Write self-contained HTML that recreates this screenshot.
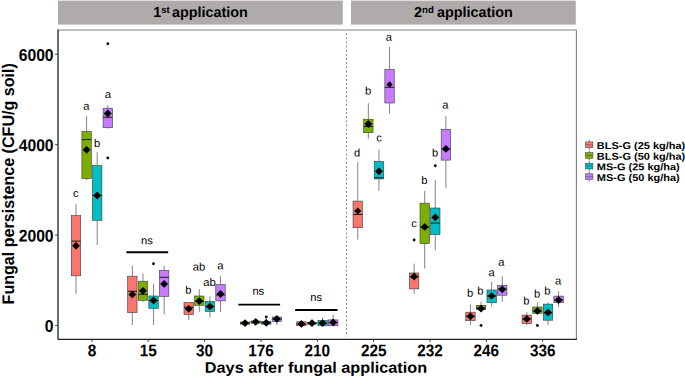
<!DOCTYPE html>
<html><head><meta charset="utf-8"><title>Fungal persistence</title>
<style>html,body{margin:0;padding:0;background:#fff;}body{width:685px;height:378px;overflow:hidden;}svg{display:block;}text{font-family:"Liberation Sans",sans-serif;fill:#000;}.b{font-weight:bold;}</style></head><body>
<svg width="685" height="378" viewBox="0 0 685 378">
<rect x="0" y="0" width="685" height="378" fill="#ffffff"/>
<rect x="58" y="0.6" width="284.8" height="24" fill="#AFABAA"/>
<rect x="351" y="0.6" width="224.8" height="24" fill="#AFABAA"/>
<text class="b" transform="translate(153.2,17) rotate(0.04)" font-size="14.4">1<tspan font-size="9.6" dy="-4.1">st</tspan><tspan dy="4.1" dx="2.2">application</tspan></text>
<text class="b" transform="translate(414,17) rotate(0.04)" font-size="14.4">2<tspan font-size="9.6" dy="-4.1">nd</tspan><tspan dy="4.1" dx="3.2">application</tspan></text>
<line x1="58.0" y1="30.0" x2="576.9" y2="30.0" stroke="#ababab" stroke-width="1.6"/>
<line x1="576.4" y1="30.0" x2="576.4" y2="339.3" stroke="#7c7c7c" stroke-width="1.1"/>
<line x1="346.5" y1="33.2" x2="346.5" y2="336.5" stroke="#5c5c5c" stroke-width="0.75" stroke-dasharray="1.9,2.25"/>
<line x1="76.00" y1="203.9" x2="76.00" y2="215.6" stroke="#5a5a5a" stroke-width="0.75"/>
<line x1="76.00" y1="275.8" x2="76.00" y2="293.8" stroke="#5a5a5a" stroke-width="0.75"/>
<rect x="71.30" y="215.6" width="9.4" height="60.2" fill="#F8766D" stroke="#3a3a3a" stroke-width="0.6"/>
<line x1="71.30" y1="241.1" x2="80.70" y2="241.1" stroke="#1c1c1c" stroke-width="1"/>
<line x1="86.60" y1="116.3" x2="86.60" y2="131.6" stroke="#5a5a5a" stroke-width="0.75"/>
<line x1="86.60" y1="178.5" x2="86.60" y2="180.0" stroke="#5a5a5a" stroke-width="0.75"/>
<rect x="81.90" y="131.6" width="9.4" height="46.9" fill="#7CAE00" stroke="#3a3a3a" stroke-width="0.6"/>
<line x1="81.90" y1="139.6" x2="91.30" y2="139.6" stroke="#1c1c1c" stroke-width="1"/>
<line x1="97.20" y1="152.3" x2="97.20" y2="165.6" stroke="#5a5a5a" stroke-width="0.75"/>
<line x1="97.20" y1="220.3" x2="97.20" y2="245.0" stroke="#5a5a5a" stroke-width="0.75"/>
<rect x="92.50" y="165.6" width="9.4" height="54.7" fill="#00BFC4" stroke="#3a3a3a" stroke-width="0.6"/>
<line x1="92.50" y1="195.5" x2="101.90" y2="195.5" stroke="#1c1c1c" stroke-width="1"/>
<line x1="107.80" y1="105.3" x2="107.80" y2="108.2" stroke="#5a5a5a" stroke-width="0.75"/>
<line x1="107.80" y1="127.7" x2="107.80" y2="128.7" stroke="#5a5a5a" stroke-width="0.75"/>
<rect x="103.10" y="108.2" width="9.4" height="19.5" fill="#C77CFF" stroke="#3a3a3a" stroke-width="0.6"/>
<line x1="103.10" y1="117.3" x2="112.50" y2="117.3" stroke="#1c1c1c" stroke-width="1"/>
<circle cx="107.80" cy="43.8" r="1.45" fill="#111"/>
<circle cx="107.80" cy="158.0" r="1.45" fill="#111"/>
<line x1="132.35" y1="265.7" x2="132.35" y2="276.2" stroke="#5a5a5a" stroke-width="0.75"/>
<line x1="132.35" y1="312.6" x2="132.35" y2="325.0" stroke="#5a5a5a" stroke-width="0.75"/>
<rect x="127.65" y="276.2" width="9.4" height="36.4" fill="#F8766D" stroke="#3a3a3a" stroke-width="0.6"/>
<line x1="127.65" y1="291.3" x2="137.05" y2="291.3" stroke="#1c1c1c" stroke-width="1"/>
<line x1="142.95" y1="273.3" x2="142.95" y2="281.2" stroke="#5a5a5a" stroke-width="0.75"/>
<line x1="142.95" y1="300.3" x2="142.95" y2="301.8" stroke="#5a5a5a" stroke-width="0.75"/>
<rect x="138.25" y="281.2" width="9.4" height="19.1" fill="#7CAE00" stroke="#3a3a3a" stroke-width="0.6"/>
<line x1="138.25" y1="294.3" x2="147.65" y2="294.3" stroke="#1c1c1c" stroke-width="1"/>
<line x1="153.55" y1="283.8" x2="153.55" y2="296.0" stroke="#5a5a5a" stroke-width="0.75"/>
<line x1="153.55" y1="308.4" x2="153.55" y2="325.0" stroke="#5a5a5a" stroke-width="0.75"/>
<rect x="148.85" y="296.0" width="9.4" height="12.4" fill="#00BFC4" stroke="#3a3a3a" stroke-width="0.6"/>
<line x1="148.85" y1="300.5" x2="158.25" y2="300.5" stroke="#1c1c1c" stroke-width="1"/>
<circle cx="153.55" cy="263.7" r="1.45" fill="#111"/>
<line x1="164.15" y1="265.7" x2="164.15" y2="270.3" stroke="#5a5a5a" stroke-width="0.75"/>
<line x1="164.15" y1="296.3" x2="164.15" y2="314.5" stroke="#5a5a5a" stroke-width="0.75"/>
<rect x="159.45" y="270.3" width="9.4" height="26.0" fill="#C77CFF" stroke="#3a3a3a" stroke-width="0.6"/>
<line x1="159.45" y1="277.3" x2="168.85" y2="277.3" stroke="#1c1c1c" stroke-width="1"/>
<line x1="188.70" y1="302.4" x2="188.70" y2="302.4" stroke="#5a5a5a" stroke-width="0.75"/>
<line x1="188.70" y1="314.5" x2="188.70" y2="319.9" stroke="#5a5a5a" stroke-width="0.75"/>
<rect x="184.00" y="302.4" width="9.4" height="12.1" fill="#F8766D" stroke="#3a3a3a" stroke-width="0.6"/>
<line x1="184.00" y1="307.2" x2="193.40" y2="307.2" stroke="#1c1c1c" stroke-width="1"/>
<line x1="199.30" y1="289.3" x2="199.30" y2="296.0" stroke="#5a5a5a" stroke-width="0.75"/>
<line x1="199.30" y1="305.3" x2="199.30" y2="311.9" stroke="#5a5a5a" stroke-width="0.75"/>
<rect x="194.60" y="296.0" width="9.4" height="9.3" fill="#7CAE00" stroke="#3a3a3a" stroke-width="0.6"/>
<line x1="194.60" y1="301.5" x2="204.00" y2="301.5" stroke="#1c1c1c" stroke-width="1"/>
<line x1="209.90" y1="296.6" x2="209.90" y2="301.3" stroke="#5a5a5a" stroke-width="0.75"/>
<line x1="209.90" y1="311.5" x2="209.90" y2="317.4" stroke="#5a5a5a" stroke-width="0.75"/>
<rect x="205.20" y="301.3" width="9.4" height="10.2" fill="#00BFC4" stroke="#3a3a3a" stroke-width="0.6"/>
<line x1="205.20" y1="306.5" x2="214.60" y2="306.5" stroke="#1c1c1c" stroke-width="1"/>
<line x1="220.50" y1="276.2" x2="220.50" y2="284.6" stroke="#5a5a5a" stroke-width="0.75"/>
<line x1="220.50" y1="300.9" x2="220.50" y2="311.9" stroke="#5a5a5a" stroke-width="0.75"/>
<rect x="215.80" y="284.6" width="9.4" height="16.3" fill="#C77CFF" stroke="#3a3a3a" stroke-width="0.6"/>
<line x1="215.80" y1="294.9" x2="225.20" y2="294.9" stroke="#1c1c1c" stroke-width="1"/>
<line x1="245.05" y1="321.5" x2="245.05" y2="322.0" stroke="#5a5a5a" stroke-width="0.75"/>
<line x1="245.05" y1="324.2" x2="245.05" y2="325.0" stroke="#5a5a5a" stroke-width="0.75"/>
<rect x="240.35" y="322.0" width="9.4" height="2.2" fill="#F8766D" stroke="#3a3a3a" stroke-width="0.6"/>
<line x1="240.35" y1="323.0" x2="249.75" y2="323.0" stroke="#1c1c1c" stroke-width="1"/>
<line x1="255.65" y1="320.5" x2="255.65" y2="321.0" stroke="#5a5a5a" stroke-width="0.75"/>
<line x1="255.65" y1="323.2" x2="255.65" y2="324.0" stroke="#5a5a5a" stroke-width="0.75"/>
<rect x="250.95" y="321.0" width="9.4" height="2.2" fill="#7CAE00" stroke="#3a3a3a" stroke-width="0.6"/>
<line x1="250.95" y1="322.0" x2="260.35" y2="322.0" stroke="#1c1c1c" stroke-width="1"/>
<line x1="266.25" y1="318.5" x2="266.25" y2="321.5" stroke="#5a5a5a" stroke-width="0.75"/>
<line x1="266.25" y1="324.2" x2="266.25" y2="325.0" stroke="#5a5a5a" stroke-width="0.75"/>
<rect x="261.55" y="321.5" width="9.4" height="2.7" fill="#00BFC4" stroke="#3a3a3a" stroke-width="0.6"/>
<line x1="261.55" y1="322.8" x2="270.95" y2="322.8" stroke="#1c1c1c" stroke-width="1"/>
<circle cx="266.25" cy="317.0" r="1.45" fill="#111"/>
<line x1="276.85" y1="316.0" x2="276.85" y2="317.0" stroke="#5a5a5a" stroke-width="0.75"/>
<line x1="276.85" y1="321.4" x2="276.85" y2="325.0" stroke="#5a5a5a" stroke-width="0.75"/>
<rect x="272.15" y="317.0" width="9.4" height="4.4" fill="#C77CFF" stroke="#3a3a3a" stroke-width="0.6"/>
<line x1="272.15" y1="319.0" x2="281.55" y2="319.0" stroke="#1c1c1c" stroke-width="1"/>
<line x1="301.40" y1="321.0" x2="301.40" y2="321.8" stroke="#5a5a5a" stroke-width="0.75"/>
<line x1="301.40" y1="325.8" x2="301.40" y2="326.0" stroke="#5a5a5a" stroke-width="0.75"/>
<rect x="296.70" y="321.8" width="9.4" height="4.0" fill="#F8766D" stroke="#3a3a3a" stroke-width="0.6"/>
<line x1="296.70" y1="324.0" x2="306.10" y2="324.0" stroke="#1c1c1c" stroke-width="1"/>
<line x1="312.00" y1="321.5" x2="312.00" y2="322.3" stroke="#5a5a5a" stroke-width="0.75"/>
<line x1="312.00" y1="324.2" x2="312.00" y2="325.0" stroke="#5a5a5a" stroke-width="0.75"/>
<rect x="307.30" y="322.3" width="9.4" height="1.9" fill="#7CAE00" stroke="#3a3a3a" stroke-width="0.6"/>
<line x1="307.30" y1="323.2" x2="316.70" y2="323.2" stroke="#1c1c1c" stroke-width="1"/>
<line x1="322.60" y1="317.4" x2="322.60" y2="320.5" stroke="#5a5a5a" stroke-width="0.75"/>
<line x1="322.60" y1="325.8" x2="322.60" y2="326.0" stroke="#5a5a5a" stroke-width="0.75"/>
<rect x="317.90" y="320.5" width="9.4" height="5.3" fill="#00BFC4" stroke="#3a3a3a" stroke-width="0.6"/>
<line x1="317.90" y1="323.2" x2="327.30" y2="323.2" stroke="#1c1c1c" stroke-width="1"/>
<line x1="333.20" y1="314.8" x2="333.20" y2="319.9" stroke="#5a5a5a" stroke-width="0.75"/>
<line x1="333.20" y1="325.8" x2="333.20" y2="326.0" stroke="#5a5a5a" stroke-width="0.75"/>
<rect x="328.50" y="319.9" width="9.4" height="5.9" fill="#C77CFF" stroke="#3a3a3a" stroke-width="0.6"/>
<line x1="328.50" y1="322.6" x2="337.90" y2="322.6" stroke="#1c1c1c" stroke-width="1"/>
<line x1="357.75" y1="162.2" x2="357.75" y2="201.1" stroke="#5a5a5a" stroke-width="0.75"/>
<line x1="357.75" y1="227.7" x2="357.75" y2="239.6" stroke="#5a5a5a" stroke-width="0.75"/>
<rect x="353.05" y="201.1" width="9.4" height="26.6" fill="#F8766D" stroke="#3a3a3a" stroke-width="0.6"/>
<line x1="353.05" y1="214.5" x2="362.45" y2="214.5" stroke="#1c1c1c" stroke-width="1"/>
<line x1="368.35" y1="103.2" x2="368.35" y2="119.2" stroke="#5a5a5a" stroke-width="0.75"/>
<line x1="368.35" y1="132.7" x2="368.35" y2="138.9" stroke="#5a5a5a" stroke-width="0.75"/>
<rect x="363.65" y="119.2" width="9.4" height="13.5" fill="#7CAE00" stroke="#3a3a3a" stroke-width="0.6"/>
<line x1="363.65" y1="126.5" x2="373.05" y2="126.5" stroke="#1c1c1c" stroke-width="1"/>
<line x1="378.95" y1="149.4" x2="378.95" y2="161.4" stroke="#5a5a5a" stroke-width="0.75"/>
<line x1="378.95" y1="178.9" x2="378.95" y2="190.7" stroke="#5a5a5a" stroke-width="0.75"/>
<rect x="374.25" y="161.4" width="9.4" height="17.5" fill="#00BFC4" stroke="#3a3a3a" stroke-width="0.6"/>
<line x1="374.25" y1="177.8" x2="383.65" y2="177.8" stroke="#1c1c1c" stroke-width="1"/>
<line x1="389.55" y1="46.7" x2="389.55" y2="69.5" stroke="#5a5a5a" stroke-width="0.75"/>
<line x1="389.55" y1="103.0" x2="389.55" y2="113.5" stroke="#5a5a5a" stroke-width="0.75"/>
<rect x="384.85" y="69.5" width="9.4" height="33.5" fill="#C77CFF" stroke="#3a3a3a" stroke-width="0.6"/>
<line x1="384.85" y1="87.3" x2="394.25" y2="87.3" stroke="#1c1c1c" stroke-width="1"/>
<line x1="414.10" y1="263.6" x2="414.10" y2="273.0" stroke="#5a5a5a" stroke-width="0.75"/>
<line x1="414.10" y1="288.9" x2="414.10" y2="294.0" stroke="#5a5a5a" stroke-width="0.75"/>
<rect x="409.40" y="273.0" width="9.4" height="15.9" fill="#F8766D" stroke="#3a3a3a" stroke-width="0.6"/>
<line x1="409.40" y1="277.0" x2="418.80" y2="277.0" stroke="#1c1c1c" stroke-width="1"/>
<circle cx="414.10" cy="240.0" r="1.45" fill="#111"/>
<line x1="424.70" y1="190.9" x2="424.70" y2="203.2" stroke="#5a5a5a" stroke-width="0.75"/>
<line x1="424.70" y1="243.5" x2="424.70" y2="268.4" stroke="#5a5a5a" stroke-width="0.75"/>
<rect x="420.00" y="203.2" width="9.4" height="40.3" fill="#7CAE00" stroke="#3a3a3a" stroke-width="0.6"/>
<line x1="420.00" y1="226.9" x2="429.40" y2="226.9" stroke="#1c1c1c" stroke-width="1"/>
<line x1="435.30" y1="180.2" x2="435.30" y2="208.0" stroke="#5a5a5a" stroke-width="0.75"/>
<line x1="435.30" y1="234.7" x2="435.30" y2="250.1" stroke="#5a5a5a" stroke-width="0.75"/>
<rect x="430.60" y="208.0" width="9.4" height="26.7" fill="#00BFC4" stroke="#3a3a3a" stroke-width="0.6"/>
<line x1="430.60" y1="223.0" x2="440.00" y2="223.0" stroke="#1c1c1c" stroke-width="1"/>
<circle cx="435.30" cy="165.7" r="1.45" fill="#111"/>
<line x1="445.90" y1="116.2" x2="445.90" y2="129.3" stroke="#5a5a5a" stroke-width="0.75"/>
<line x1="445.90" y1="160.1" x2="445.90" y2="188.3" stroke="#5a5a5a" stroke-width="0.75"/>
<rect x="441.20" y="129.3" width="9.4" height="30.8" fill="#C77CFF" stroke="#3a3a3a" stroke-width="0.6"/>
<line x1="441.20" y1="148.9" x2="450.60" y2="148.9" stroke="#1c1c1c" stroke-width="1"/>
<line x1="470.45" y1="304.6" x2="470.45" y2="312.2" stroke="#5a5a5a" stroke-width="0.75"/>
<line x1="470.45" y1="320.7" x2="470.45" y2="325.0" stroke="#5a5a5a" stroke-width="0.75"/>
<rect x="465.75" y="312.2" width="9.4" height="8.5" fill="#F8766D" stroke="#3a3a3a" stroke-width="0.6"/>
<line x1="465.75" y1="316.5" x2="475.15" y2="316.5" stroke="#1c1c1c" stroke-width="1"/>
<line x1="481.05" y1="302.0" x2="481.05" y2="305.3" stroke="#5a5a5a" stroke-width="0.75"/>
<line x1="481.05" y1="309.7" x2="481.05" y2="310.2" stroke="#5a5a5a" stroke-width="0.75"/>
<rect x="476.35" y="305.3" width="9.4" height="4.4" fill="#7CAE00" stroke="#3a3a3a" stroke-width="0.6"/>
<line x1="476.35" y1="308.0" x2="485.75" y2="308.0" stroke="#1c1c1c" stroke-width="1"/>
<circle cx="481.05" cy="325.5" r="1.45" fill="#111"/>
<line x1="491.65" y1="281.6" x2="491.65" y2="290.0" stroke="#5a5a5a" stroke-width="0.75"/>
<line x1="491.65" y1="302.7" x2="491.65" y2="306.6" stroke="#5a5a5a" stroke-width="0.75"/>
<rect x="486.95" y="290.0" width="9.4" height="12.7" fill="#00BFC4" stroke="#3a3a3a" stroke-width="0.6"/>
<line x1="486.95" y1="296.0" x2="496.35" y2="296.0" stroke="#1c1c1c" stroke-width="1"/>
<line x1="502.25" y1="276.2" x2="502.25" y2="285.4" stroke="#5a5a5a" stroke-width="0.75"/>
<line x1="502.25" y1="295.2" x2="502.25" y2="301.7" stroke="#5a5a5a" stroke-width="0.75"/>
<rect x="497.55" y="285.4" width="9.4" height="9.8" fill="#C77CFF" stroke="#3a3a3a" stroke-width="0.6"/>
<line x1="497.55" y1="289.0" x2="506.95" y2="289.0" stroke="#1c1c1c" stroke-width="1"/>
<line x1="526.80" y1="312.3" x2="526.80" y2="315.1" stroke="#5a5a5a" stroke-width="0.75"/>
<line x1="526.80" y1="323.6" x2="526.80" y2="325.0" stroke="#5a5a5a" stroke-width="0.75"/>
<rect x="522.10" y="315.1" width="9.4" height="8.5" fill="#F8766D" stroke="#3a3a3a" stroke-width="0.6"/>
<line x1="522.10" y1="319.0" x2="531.50" y2="319.0" stroke="#1c1c1c" stroke-width="1"/>
<line x1="537.40" y1="302.3" x2="537.40" y2="307.0" stroke="#5a5a5a" stroke-width="0.75"/>
<line x1="537.40" y1="313.4" x2="537.40" y2="314.5" stroke="#5a5a5a" stroke-width="0.75"/>
<rect x="532.70" y="307.0" width="9.4" height="6.4" fill="#7CAE00" stroke="#3a3a3a" stroke-width="0.6"/>
<line x1="532.70" y1="311.0" x2="542.10" y2="311.0" stroke="#1c1c1c" stroke-width="1"/>
<circle cx="537.40" cy="325.5" r="1.45" fill="#111"/>
<line x1="548.00" y1="302.2" x2="548.00" y2="304.1" stroke="#5a5a5a" stroke-width="0.75"/>
<line x1="548.00" y1="320.2" x2="548.00" y2="325.0" stroke="#5a5a5a" stroke-width="0.75"/>
<rect x="543.30" y="304.1" width="9.4" height="16.1" fill="#00BFC4" stroke="#3a3a3a" stroke-width="0.6"/>
<line x1="543.30" y1="313.0" x2="552.70" y2="313.0" stroke="#1c1c1c" stroke-width="1"/>
<line x1="558.60" y1="291.3" x2="558.60" y2="296.1" stroke="#5a5a5a" stroke-width="0.75"/>
<line x1="558.60" y1="302.7" x2="558.60" y2="307.0" stroke="#5a5a5a" stroke-width="0.75"/>
<rect x="553.90" y="296.1" width="9.4" height="6.6" fill="#C77CFF" stroke="#3a3a3a" stroke-width="0.6"/>
<line x1="553.90" y1="300.0" x2="563.30" y2="300.0" stroke="#1c1c1c" stroke-width="1"/>
<path d="M76.00 241.9L79.95 245.8L76.00 249.8L72.05 245.8Z" fill="#000"/>
<path d="M86.60 145.9L90.55 149.8L86.60 153.8L82.65 149.8Z" fill="#000"/>
<path d="M97.20 191.6L101.15 195.5L97.20 199.4L93.25 195.5Z" fill="#000"/>
<path d="M107.80 109.5L111.75 113.4L107.80 117.4L103.85 113.4Z" fill="#000"/>
<path d="M132.35 290.4L136.30 294.4L132.35 298.3L128.40 294.4Z" fill="#000"/>
<path d="M142.95 286.9L146.90 290.8L142.95 294.8L139.00 290.8Z" fill="#000"/>
<path d="M153.55 296.6L157.50 300.5L153.55 304.4L149.60 300.5Z" fill="#000"/>
<path d="M164.15 279.9L168.10 283.9L164.15 287.8L160.20 283.9Z" fill="#000"/>
<path d="M188.70 304.9L192.65 308.8L188.70 312.8L184.75 308.8Z" fill="#000"/>
<path d="M199.30 297.2L203.25 301.1L199.30 305.1L195.35 301.1Z" fill="#000"/>
<path d="M209.90 302.6L213.85 306.5L209.90 310.4L205.95 306.5Z" fill="#000"/>
<path d="M220.50 290.1L224.45 294.0L220.50 297.9L216.55 294.0Z" fill="#000"/>
<path d="M245.05 319.2L249.00 323.1L245.05 327.1L241.10 323.1Z" fill="#000"/>
<path d="M255.65 317.9L259.60 321.8L255.65 325.8L251.70 321.8Z" fill="#000"/>
<path d="M266.25 318.9L270.20 322.8L266.25 326.8L262.30 322.8Z" fill="#000"/>
<path d="M276.85 314.9L280.80 318.9L276.85 322.8L272.90 318.9Z" fill="#000"/>
<path d="M301.40 319.9L305.35 323.9L301.40 327.8L297.45 323.9Z" fill="#000"/>
<path d="M312.00 319.2L315.95 323.1L312.00 327.1L308.05 323.1Z" fill="#000"/>
<path d="M322.60 319.2L326.55 323.1L322.60 327.1L318.65 323.1Z" fill="#000"/>
<path d="M333.20 318.4L337.15 322.4L333.20 326.3L329.25 322.4Z" fill="#000"/>
<path d="M357.75 207.4L361.35 211.0L357.75 214.6L354.15 211.0Z" fill="#000"/>
<path d="M368.35 120.0L372.30 124.0L368.35 128.0L364.40 124.0Z" fill="#000"/>
<path d="M378.95 167.4L382.90 171.3L378.95 175.2L375.00 171.3Z" fill="#000"/>
<path d="M389.55 81.3L392.65 84.4L389.55 87.5L386.45 84.4Z" fill="#000"/>
<path d="M414.10 272.6L418.05 276.5L414.10 280.4L410.15 276.5Z" fill="#000"/>
<path d="M424.70 223.0L428.65 226.9L424.70 230.8L420.75 226.9Z" fill="#000"/>
<path d="M435.30 213.5L439.25 217.4L435.30 221.3L431.35 217.4Z" fill="#000"/>
<path d="M445.90 145.0L449.85 148.9L445.90 152.8L441.95 148.9Z" fill="#000"/>
<path d="M470.45 312.4L474.40 316.3L470.45 320.2L466.50 316.3Z" fill="#000"/>
<path d="M481.05 304.8L485.00 308.7L481.05 312.6L477.10 308.7Z" fill="#000"/>
<path d="M491.65 291.9L495.60 295.9L491.65 299.8L487.70 295.9Z" fill="#000"/>
<path d="M502.25 285.4L506.20 289.3L502.25 293.2L498.30 289.3Z" fill="#000"/>
<path d="M526.80 314.9L530.75 318.9L526.80 322.8L522.85 318.9Z" fill="#000"/>
<path d="M537.40 306.9L541.35 310.9L537.40 314.8L533.45 310.9Z" fill="#000"/>
<path d="M548.00 308.6L551.95 312.5L548.00 316.4L544.05 312.5Z" fill="#000"/>
<path d="M558.60 296.1L562.55 300.0L558.60 303.9L554.65 300.0Z" fill="#000"/>
<text transform="translate(75.80,197.00) rotate(0.04) scale(1.0,1)" font-size="11.2" text-anchor="middle" fill="#1a1a1a">c</text>
<text transform="translate(86.30,109.70) rotate(0.04) scale(1.0,1)" font-size="11.2" text-anchor="middle" fill="#1a1a1a">a</text>
<text transform="translate(97.20,146.90) rotate(0.04) scale(1.0,1)" font-size="11.2" text-anchor="middle" fill="#1a1a1a">b</text>
<text transform="translate(107.90,98.00) rotate(0.04) scale(1.0,1)" font-size="11.2" text-anchor="middle" fill="#1a1a1a">a</text>
<text transform="translate(146.90,244.30) rotate(0.04) scale(1.0,1)" font-size="11.2" text-anchor="middle" fill="#1a1a1a">ns</text>
<text transform="translate(188.30,293.70) rotate(0.04) scale(1.0,1)" font-size="11.2" text-anchor="middle" fill="#1a1a1a">b</text>
<text transform="translate(199.00,270.60) rotate(0.04) scale(1.0,1)" font-size="11.2" text-anchor="middle" fill="#1a1a1a">ab</text>
<text transform="translate(209.40,286.10) rotate(0.04) scale(1.0,1)" font-size="11.2" text-anchor="middle" fill="#1a1a1a">ab</text>
<text transform="translate(220.40,269.20) rotate(0.04) scale(1.0,1)" font-size="11.2" text-anchor="middle" fill="#1a1a1a">a</text>
<text transform="translate(258.30,294.70) rotate(0.04) scale(1.0,1)" font-size="11.2" text-anchor="middle" fill="#1a1a1a">ns</text>
<text transform="translate(316.10,301.00) rotate(0.04) scale(1.0,1)" font-size="11.2" text-anchor="middle" fill="#1a1a1a">ns</text>
<text transform="translate(357.20,156.50) rotate(0.04) scale(1.0,1)" font-size="11.2" text-anchor="middle" fill="#1a1a1a">d</text>
<text transform="translate(368.20,94.60) rotate(0.04) scale(1.0,1)" font-size="11.2" text-anchor="middle" fill="#1a1a1a">b</text>
<text transform="translate(379.00,141.50) rotate(0.04) scale(1.0,1)" font-size="11.2" text-anchor="middle" fill="#1a1a1a">c</text>
<text transform="translate(388.90,40.80) rotate(0.04) scale(1.0,1)" font-size="11.2" text-anchor="middle" fill="#1a1a1a">a</text>
<text transform="translate(414.00,227.30) rotate(0.04) scale(1.0,1)" font-size="11.2" text-anchor="middle" fill="#1a1a1a">c</text>
<text transform="translate(424.40,184.00) rotate(0.04) scale(1.0,1)" font-size="11.2" text-anchor="middle" fill="#1a1a1a">b</text>
<text transform="translate(435.00,156.50) rotate(0.04) scale(1.0,1)" font-size="11.2" text-anchor="middle" fill="#1a1a1a">b</text>
<text transform="translate(445.30,108.40) rotate(0.04) scale(1.0,1)" font-size="11.2" text-anchor="middle" fill="#1a1a1a">a</text>
<text transform="translate(470.20,296.80) rotate(0.04) scale(1.0,1)" font-size="11.2" text-anchor="middle" fill="#1a1a1a">b</text>
<text transform="translate(480.40,294.60) rotate(0.04) scale(1.0,1)" font-size="11.2" text-anchor="middle" fill="#1a1a1a">b</text>
<text transform="translate(491.50,276.20) rotate(0.04) scale(1.0,1)" font-size="11.2" text-anchor="middle" fill="#1a1a1a">a</text>
<text transform="translate(501.40,265.70) rotate(0.04) scale(1.0,1)" font-size="11.2" text-anchor="middle" fill="#1a1a1a">a</text>
<text transform="translate(526.30,304.50) rotate(0.04) scale(1.0,1)" font-size="11.2" text-anchor="middle" fill="#1a1a1a">b</text>
<text transform="translate(537.20,297.40) rotate(0.04) scale(1.0,1)" font-size="11.2" text-anchor="middle" fill="#1a1a1a">b</text>
<text transform="translate(547.40,294.50) rotate(0.04) scale(1.0,1)" font-size="11.2" text-anchor="middle" fill="#1a1a1a">b</text>
<text transform="translate(558.10,284.40) rotate(0.04) scale(1.0,1)" font-size="11.2" text-anchor="middle" fill="#1a1a1a">a</text>
<line x1="126.4" y1="252.3" x2="168.2" y2="252.3" stroke="#000" stroke-width="1.9"/>
<line x1="238.3" y1="304.6" x2="280.1" y2="304.6" stroke="#000" stroke-width="1.9"/>
<line x1="295.2" y1="310.0" x2="337.6" y2="310.0" stroke="#000" stroke-width="1.9"/>
<path d="M58.0 29.5L58.0 339.3L576.9 339.3" fill="none" stroke="#222" stroke-width="1.3" stroke-linejoin="round"/>
<line x1="55.1" y1="325.4" x2="58.0" y2="325.4" stroke="#333" stroke-width="0.9"/>
<text class="b" transform="translate(53.60,331.80) rotate(0.04) scale(0.93,1)" font-size="16.9" text-anchor="end">0</text>
<line x1="55.1" y1="235.0" x2="58.0" y2="235.0" stroke="#333" stroke-width="0.9"/>
<text class="b" transform="translate(53.60,241.43) rotate(0.04) scale(0.93,1)" font-size="16.9" text-anchor="end">2000</text>
<line x1="55.1" y1="144.7" x2="58.0" y2="144.7" stroke="#333" stroke-width="0.9"/>
<text class="b" transform="translate(53.60,151.07) rotate(0.04) scale(0.93,1)" font-size="16.9" text-anchor="end">4000</text>
<line x1="55.1" y1="54.3" x2="58.0" y2="54.3" stroke="#333" stroke-width="0.9"/>
<text class="b" transform="translate(53.60,60.70) rotate(0.04) scale(0.93,1)" font-size="16.9" text-anchor="end">6000</text>
<line x1="91.9" y1="339.3" x2="91.9" y2="342.0" stroke="#333" stroke-width="0.9"/>
<text class="b" transform="translate(91.90,356.35) rotate(0.04) scale(0.906,1)" font-size="16.9" text-anchor="middle">8</text>
<line x1="148.2" y1="339.3" x2="148.2" y2="342.0" stroke="#333" stroke-width="0.9"/>
<text class="b" transform="translate(148.25,356.35) rotate(0.04) scale(0.906,1)" font-size="16.9" text-anchor="middle">15</text>
<line x1="204.6" y1="339.3" x2="204.6" y2="342.0" stroke="#333" stroke-width="0.9"/>
<text class="b" transform="translate(204.60,356.35) rotate(0.04) scale(0.906,1)" font-size="16.9" text-anchor="middle">30</text>
<line x1="261.0" y1="339.3" x2="261.0" y2="342.0" stroke="#333" stroke-width="0.9"/>
<text class="b" transform="translate(260.95,356.35) rotate(0.04) scale(0.906,1)" font-size="16.9" text-anchor="middle">176</text>
<line x1="317.3" y1="339.3" x2="317.3" y2="342.0" stroke="#333" stroke-width="0.9"/>
<text class="b" transform="translate(317.30,356.35) rotate(0.04) scale(0.906,1)" font-size="16.9" text-anchor="middle">210</text>
<line x1="373.6" y1="339.3" x2="373.6" y2="342.0" stroke="#333" stroke-width="0.9"/>
<text class="b" transform="translate(373.65,356.35) rotate(0.04) scale(0.906,1)" font-size="16.9" text-anchor="middle">225</text>
<line x1="430.0" y1="339.3" x2="430.0" y2="342.0" stroke="#333" stroke-width="0.9"/>
<text class="b" transform="translate(430.00,356.35) rotate(0.04) scale(0.906,1)" font-size="16.9" text-anchor="middle">232</text>
<line x1="486.4" y1="339.3" x2="486.4" y2="342.0" stroke="#333" stroke-width="0.9"/>
<text class="b" transform="translate(486.35,356.35) rotate(0.04) scale(0.906,1)" font-size="16.9" text-anchor="middle">246</text>
<line x1="542.7" y1="339.3" x2="542.7" y2="342.0" stroke="#333" stroke-width="0.9"/>
<text class="b" transform="translate(542.70,356.35) rotate(0.04) scale(0.906,1)" font-size="16.9" text-anchor="middle">336</text>
<text class="b" transform="translate(316.00,372.80) rotate(0.04) scale(1.071,1)" font-size="15.2" text-anchor="middle">Days after fungal application</text>
<text class="b" transform="translate(14.0,183.8) rotate(-90.03) scale(0.958,1)" font-size="16.8" text-anchor="middle">Fungal persistence (CFU/g soil)</text>
<line x1="589.2" y1="139.9" x2="589.2" y2="149.7" stroke="#5a5a5a" stroke-width="0.8"/>
<rect x="585.5" y="141.9" width="7.4" height="5.8" fill="#F8766D" stroke="#3a3a3a" stroke-width="0.5"/>
<line x1="585.5" y1="144.8" x2="592.9" y2="144.8" stroke="#444" stroke-width="0.55"/>
<text class="b" transform="translate(596.80,149.00) rotate(0.04) scale(1.098,1)" font-size="10.0" text-anchor="start">BLS-G (25 kg/ha)</text>
<line x1="589.2" y1="150.6" x2="589.2" y2="160.4" stroke="#5a5a5a" stroke-width="0.8"/>
<rect x="585.5" y="152.6" width="7.4" height="5.8" fill="#7CAE00" stroke="#3a3a3a" stroke-width="0.5"/>
<line x1="585.5" y1="155.5" x2="592.9" y2="155.5" stroke="#444" stroke-width="0.55"/>
<text class="b" transform="translate(596.80,159.65) rotate(0.04) scale(1.098,1)" font-size="10.0" text-anchor="start">BLS-G (50 kg/ha)</text>
<line x1="589.2" y1="161.2" x2="589.2" y2="171.0" stroke="#5a5a5a" stroke-width="0.8"/>
<rect x="585.5" y="163.2" width="7.4" height="5.8" fill="#00BFC4" stroke="#3a3a3a" stroke-width="0.5"/>
<line x1="585.5" y1="166.1" x2="592.9" y2="166.1" stroke="#444" stroke-width="0.55"/>
<text class="b" transform="translate(596.80,170.30) rotate(0.04) scale(1.098,1)" font-size="10.0" text-anchor="start">MS-G (25 kg/ha)</text>
<line x1="589.2" y1="171.8" x2="589.2" y2="181.7" stroke="#5a5a5a" stroke-width="0.8"/>
<rect x="585.5" y="173.8" width="7.4" height="5.8" fill="#C77CFF" stroke="#3a3a3a" stroke-width="0.5"/>
<line x1="585.5" y1="176.8" x2="592.9" y2="176.8" stroke="#444" stroke-width="0.55"/>
<text class="b" transform="translate(596.80,180.95) rotate(0.04) scale(1.098,1)" font-size="10.0" text-anchor="start">MS-G (50 kg/ha)</text>
</svg></body></html>
